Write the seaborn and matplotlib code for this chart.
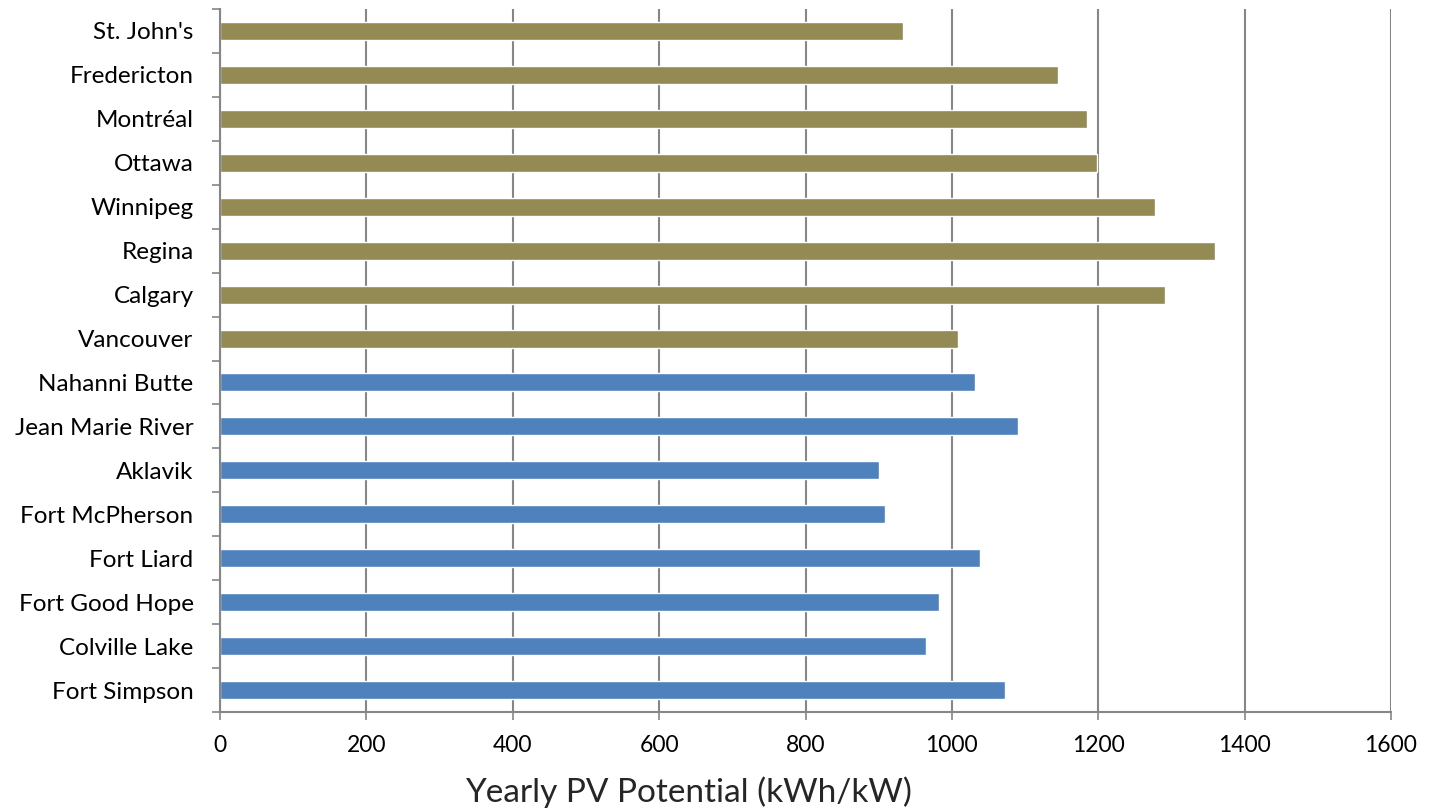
import numpy as np
import pandas as pd
import matplotlib
matplotlib.use("Agg")
import matplotlib.pyplot as plt
import seaborn as sns
from matplotlib.ticker import FixedLocator

# Data (top to bottom)
sites = ["St. John's", "Fredericton", "Montréal", "Ottawa", "Winnipeg", "Regina",
         "Calgary", "Vancouver", "Nahanni Butte", "Jean Marie River", "Aklavik",
         "Fort McPherson", "Fort Liard", "Fort Good Hope", "Colville Lake", "Fort Simpson"]
potential = [933, 1145, 1184, 1198, 1277, 1360, 1291, 1008,
             1032, 1090, 900, 909, 1039, 982, 964, 1072]
groups = ["south"] * 8 + ["nwt"] * 8
group_colors = {"south": "#948A54", "nwt": "#4F81BD"}
xticks = [0, 200, 400, 600, 800, 1000, 1200, 1400, 1600]

df = pd.DataFrame({"site": sites, "value": potential, "group": groups})

sns.set_style("white")
plt.rcParams['font.family'] = ['Lato', 'DejaVu Sans']

fig = plt.figure(figsize=(14.31, 8.09), dpi=100)
ax = fig.add_axes([220 / 1431, 1 - 712 / 809, (1391 - 220) / 1431, (712 - 9) / 809])

sns.barplot(data=df, x="value", y="site", hue="group", palette=group_colors,
            dodge=False, width=0.41, legend=False, saturation=1, ax=ax)

grid_c = "#868686"
ax.set_xlim(0, 1600)
ax.set_xticks(xticks)
ax.set_ylim(len(sites) - 0.5, -0.5)
ax.xaxis.grid(True, color=grid_c, linewidth=1.5)
ax.yaxis.grid(False)
ax.set_axisbelow(True)

for s in ["top", "right"]:
    ax.spines[s].set_visible(False)
for s in ["left", "bottom"]:
    ax.spines[s].set_color(grid_c)
    ax.spines[s].set_linewidth(1.5)

ax.yaxis.set_minor_locator(FixedLocator(np.arange(-0.5, len(sites), 1.0)))
ax.tick_params(axis="y", which="major", length=0, pad=19, labelsize=17.5, labelcolor="black")
ax.tick_params(axis="y", which="minor", length=5.5, width=1.2, color=grid_c, direction="out", left=True)
ax.tick_params(axis="x", which="major", length=5.5, width=1.2, color=grid_c, direction="out",
               bottom=True, pad=11, labelsize=16.5, labelcolor="black")

ax.set_ylabel("")
# axis title sits a bit left of the plot centre in the original
ax.set_xlabel("Yearly PV Potential (kWh/kW)", fontsize=24, va="baseline", ha="center")
ax.xaxis.set_label_coords((688 - 220) / 1171, (712 - 802) / 703)

fig.savefig("out.png", dpi=100)
